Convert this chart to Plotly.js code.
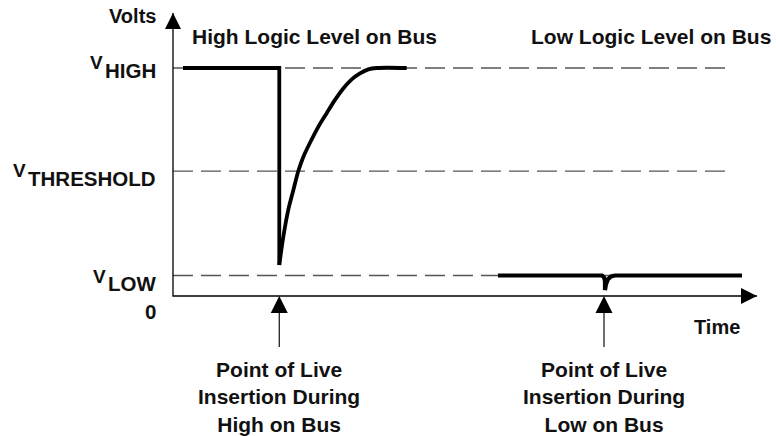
<!DOCTYPE html>
<html>
<head>
<meta charset="utf-8">
<script src="https://cdn.plot.ly/plotly-3.0.1.min.js"></script>
<style>html,body{margin:0;padding:0;background:#fff;}#chart{width:776px;height:436px;}</style>
</head>
<body>
<div id="chart"></div>
<script>
// ---- data (arbitrary units: time 0..100, volts 0..6.2) ----
const levelNames  = ['HIGH', 'THRESHOLD', 'LOW'];
const levelValues = [5.0, 2.74, 0.45];
const levelEndT   = 95.9;

// signal during live insertion with high level on bus: step down, then recovery
const highStepT = [1.71, 18.2, 18.2];
const highStepV = [5.0, 5.0, 0.68];
const highRecT = [18.2, 18.89, 19.74, 20.6, 21.46, 22.31, 23.46, 24.88, 26.32, 27.74, 29.16, 30.6, 32.02, 33.44, 34.88, 40.02];
const highRecV = [0.68, 1.30, 1.89, 2.32, 2.74, 3.05, 3.36, 3.71, 4.01, 4.30, 4.55, 4.75, 4.88, 4.97, 5.0, 5.0];

// signal during live insertion with low level on bus
const lowT = [55.65, 73.46, 73.8, 73.97, 73.97, 74.14, 74.49, 75.0, 75.68, 97.43];
const lowV = [0.45, 0.45, 0.41, 0.33, 0.13, 0.26, 0.37, 0.43, 0.45, 0.45];

const insertionT = [18.2, 73.8];
const insertionArrowEndV = -1.12;
const insertionText = ['Point of Live<br>Insertion During<br>High on Bus', 'Point of Live<br>Insertion During<br>Low on Bus'];
const regionTitles = ['High Logic Level on Bus', 'Low Logic Level on Bus'];
const regionT = [24.3, 81.85];

const tMax = 100, vMax = 6.206;          // ends of the drawn axes
const viewT = [-29.62, 103.25];          // visible window
const viewV = [-3.07, 6.491];

const FONT = {family: 'Liberation Sans, Arial, sans-serif', size: 20, color: '#111', weight: 'bold'};
const FONT21 = Object.assign({}, FONT, {size: 21});
const FONTL = Object.assign({}, FONT, {size: 20.5});
const FONTV = Object.assign({}, FONT, {size: 19});

const traces = [];
levelValues.forEach(v => {
  traces.push({x: [0, levelEndT], y: [v, v], mode: 'lines', hoverinfo: 'skip',
    line: {color: '#555', width: 1.3, dash: '20px,8px'}});
});
// axes
traces.push({x: [0, 0, tMax], y: [vMax, 0, 0], mode: 'lines', hoverinfo: 'skip',
  line: {color: '#000', width: 1.3}});
traces.push({x: [0, tMax], y: [vMax, 0], mode: 'markers', hoverinfo: 'skip', cliponaxis: false,
  marker: {symbol: ['arrow-up', 'arrow-right'], size: 16, color: '#000', line: {width: 0}}});
// signals
traces.push({x: highStepT, y: highStepV, mode: 'lines', hoverinfo: 'skip', line: {color: '#000', width: 3.8}});
traces.push({x: highRecT, y: highRecV, mode: 'lines', hoverinfo: 'skip', line: {color: '#000', width: 3.8, shape: 'spline', smoothing: 0.8}});
traces.push({x: lowT, y: lowV, mode: 'lines', hoverinfo: 'skip', line: {color: '#000', width: 4.2}});
// insertion arrows
insertionT.forEach(t => {
  traces.push({x: [t, t], y: [-0.2, insertionArrowEndV], mode: 'lines', hoverinfo: 'skip',
    line: {color: '#222', width: 1.3}});
});
traces.push({x: insertionT, y: insertionT.map(() => 0), mode: 'markers', hoverinfo: 'skip', cliponaxis: false,
  marker: {symbol: 'arrow-up', size: 17, color: '#000', line: {width: 0}}});

const ann = [];
insertionT.forEach((t, i) => {
  ann.push({x: t, y: -2.215, xref: 'x', yref: 'y', text: insertionText[i], showarrow: false,
    xanchor: 'center', yanchor: 'middle', align: 'center', font: FONT21});
});
regionTitles.forEach((s, i) => {
  ann.push({x: regionT[i], y: 5.70, xref: 'x', yref: 'y', text: s, showarrow: false,
    xanchor: 'center', yanchor: 'middle', font: FONT21});
});
// level labels: "V" followed by the level name
const ctx = document.createElement('canvas').getContext('2d');
ctx.font = 'bold 20.5px "Liberation Sans", Arial, sans-serif';
const nameShift = [-2.5, -7, -8];
const vShift = [5, 1, -1.5];
levelNames.forEach((n, i) => {
  const w = ctx.measureText(n).width;
  ann.push({x: 0, y: levelValues[i], xref: 'x', yref: 'y', xshift: -15, yshift: nameShift[i],
    text: n, showarrow: false, xanchor: 'right', yanchor: 'middle', font: FONTL});
  ann.push({x: 0, y: levelValues[i], xref: 'x', yref: 'y', xshift: -15 - w - 2, yshift: vShift[i],
    text: 'V', showarrow: false, xanchor: 'right', yanchor: 'middle', font: FONTV});
});
ann.push({x: 0, y: 0, xref: 'x', yref: 'y', xshift: -15, yshift: -15, text: '0', showarrow: false,
  xanchor: 'right', yanchor: 'middle', font: FONTL});
ann.push({x: 0, y: 6.13, xref: 'x', yref: 'y', xshift: -15, text: 'Volts', showarrow: false,
  xanchor: 'right', yanchor: 'middle', font: FONT});
ann.push({x: 93.07, y: -0.68, xref: 'x', yref: 'y', text: 'Time', showarrow: false,
  xanchor: 'center', yanchor: 'middle', font: FONT});

const layout = {
  width: 776, height: 436,
  margin: {l: 0, r: 0, t: 0, b: 0, pad: 0},
  paper_bgcolor: '#fff', plot_bgcolor: '#fff',
  showlegend: false,
  font: FONT,
  xaxis: {range: viewT, visible: false, fixedrange: true},
  yaxis: {range: viewV, visible: false, fixedrange: true},
  annotations: ann
};

Plotly.newPlot('chart', traces, layout, {displayModeBar: false, staticPlot: true});
</script>
</body>
</html>
